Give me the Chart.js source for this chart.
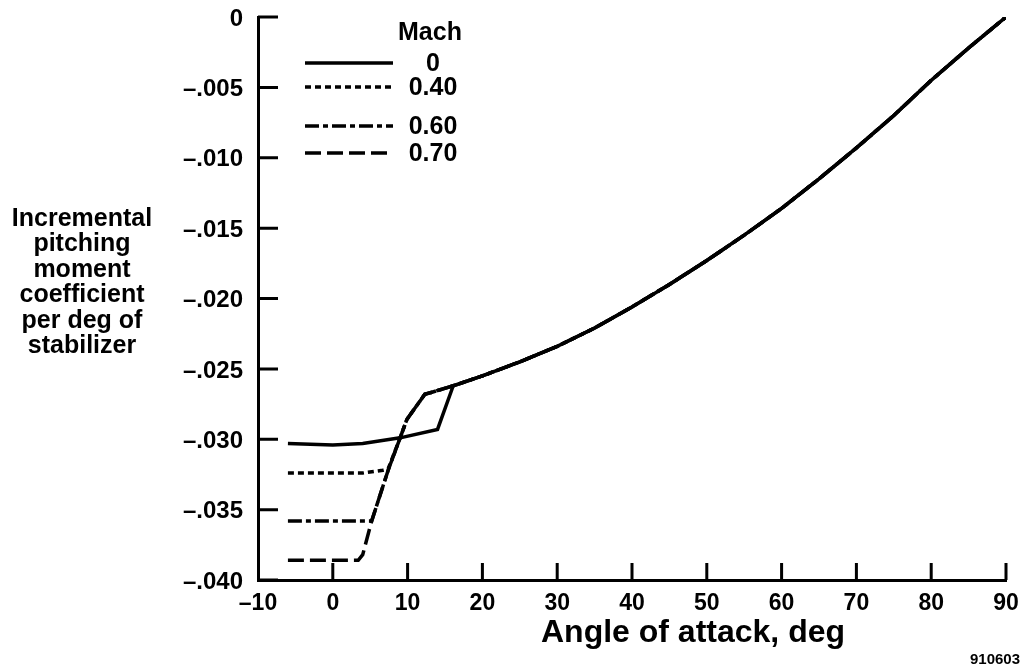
<!DOCTYPE html>
<html>
<head>
<meta charset="utf-8">
<title>Incremental pitching moment coefficient vs angle of attack</title>
<script src="https://cdn.jsdelivr.net/npm/chart.js@4.4.1/dist/chart.umd.min.js"></script>
<style>
  html, body { margin: 0; padding: 0; background: #fff; }
  canvas { display: block; }
</style>
</head>
<body>
<canvas id="chart" width="1025" height="671"></canvas>
<script>
// angle of attack (deg) and incremental Cm per deg of stabilizer

// low-alpha plateau of each Mach number
const mach0Alpha = [-6, 0, 4, 9, 14];
const mach0Cm = [-0.0303, -0.0304, -0.0303, -0.0299, -0.0293];

const mach40Alpha = [-6, 4, 6.7, 7.4];
const mach40Cm = [-0.0324, -0.0324, -0.0322, -0.0321];

const mach60Alpha = [-6, 5.2];
const mach60Cm = [-0.0358, -0.0358];

const mach70Alpha = [-6, 3.4, 4.0, 5.2];
const mach70Cm = [-0.0386, -0.0386, -0.0382, -0.0358];

// steep break shared by the compressible cases
const breakAlpha = [7.4, 9.0, 9.9, 12.3, 13.0];
const breakCm = [-0.0322, -0.0299, -0.0286, -0.0268, -0.0267];

// common high-alpha branch
const upperAlpha = [16.1, 20, 25, 30, 35, 40, 45, 50, 55, 60, 65, 70, 75, 80, 85, 90];
const upperCm = [-0.0262, -0.0255, -0.0245, -0.0234, -0.0221, -0.0206, -0.0190, -0.0173, -0.0155, -0.0136, -0.0115, -0.0093, -0.0070, -0.0045, -0.0022, 0];

const machLabels = ['0', '0.40', '0.60', '0.70'];

const xTicks = [-10, 0, 10, 20, 30, 40, 50, 60, 70, 80, 90];
const xTickLabels = ['\u201310', '0', '10', '20', '30', '40', '50', '60', '70', '80', '90'];
const yTicks = [-0.040, -0.035, -0.030, -0.025, -0.020, -0.015, -0.010, -0.005, 0];
const yTickLabels = ['\u2013.040', '\u2013.035', '\u2013.030', '\u2013.025', '\u2013.020', '\u2013.015', '\u2013.010', '\u2013.005', '0'];

const yTitleLines = ['Incremental', 'pitching', 'moment', 'coefficient', 'per deg of', 'stabilizer'];
const xTitle = 'Angle of attack, deg';
const figNumber = '910603';

const FONT = "'Liberation Sans', Arial, Helvetica, sans-serif";

function toPoints(alphas, cms) {
  return alphas.map((a, i) => ({ x: a, y: cms[i] }));
}

const series = [
  { label: machLabels[0], pts: [...toPoints(mach0Alpha, mach0Cm), ...toPoints(upperAlpha, upperCm)], dash: [] },
  { label: machLabels[1], pts: [...toPoints(mach40Alpha, mach40Cm), ...toPoints(breakAlpha.slice(1), breakCm.slice(1)), ...toPoints(upperAlpha, upperCm)], dash: [6, 4] },
  { label: machLabels[2], pts: [...toPoints(mach60Alpha, mach60Cm), ...toPoints(breakAlpha, breakCm), ...toPoints(upperAlpha, upperCm)], dash: [14, 4, 5, 4] },
  { label: machLabels[3], pts: [...toPoints(mach70Alpha, mach70Cm), ...toPoints(breakAlpha, breakCm), ...toPoints(upperAlpha, upperCm)], dash: [16, 6] },
];

// inward tick marks, legend and free-standing titles
const decor = {
  id: 'decor',
  afterDraw(chart) {
    const { ctx, scales: { x, y } } = chart;
    ctx.save();
    ctx.strokeStyle = '#000';
    ctx.lineWidth = 3;
    ctx.setLineDash([]);
    ctx.beginPath();
    xTicks.slice(1).forEach(v => {
      const px = x.getPixelForValue(v);
      ctx.moveTo(px, y.bottom);
      ctx.lineTo(px, y.bottom - 17);
    });
    yTicks.forEach(v => {
      const py = y.getPixelForValue(v);
      ctx.moveTo(x.left, py);
      ctx.lineTo(x.left + 20, py);
    });
    ctx.stroke();

    // legend
    ctx.fillStyle = '#000';
    ctx.textAlign = 'center';
    ctx.textBaseline = 'middle';
    ctx.font = `bold 25px ${FONT}`;
    ctx.fillText('Mach', 430, 33);
    const rowY = [63, 87, 126, 153];
    chart.data.datasets.forEach((ds, i) => {
      ctx.beginPath();
      ctx.lineWidth = 3.5;
      ctx.setLineDash(ds.borderDash);
      ctx.moveTo(305, rowY[i]);
      ctx.lineTo(393, rowY[i]);
      ctx.stroke();
      ctx.setLineDash([]);
      ctx.fillText(ds.label, 433, rowY[i] + 1);
    });

    // y title, horizontal stack
    ctx.font = `bold 25px ${FONT}`;
    yTitleLines.forEach((t, i) => ctx.fillText(t, 82, 219 + i * 25.5));

    // x title
    ctx.font = `bold 32px ${FONT}`;
    ctx.fillText(xTitle, 693, 633);

    ctx.font = `bold 15px ${FONT}`;
    ctx.textAlign = 'right';
    ctx.fillText(figNumber, 1020, 660);
    ctx.restore();
  }
};

new Chart(document.getElementById('chart'), {
  type: 'line',
  data: {
    datasets: series.map(s => ({
      label: s.label,
      data: s.pts,
      borderColor: '#000',
      borderWidth: 3.5,
      borderDash: s.dash,
      pointRadius: 0,
      tension: 0,
      fill: false,
    })),
  },
  options: {
    responsive: false,
    animation: false,
    devicePixelRatio: 1,
    layout: { padding: { top: 17, right: 19, left: 0, bottom: 0 } },
    plugins: { legend: { display: false }, tooltip: { enabled: false } },
    scales: {
      x: {
        type: 'linear',
        min: -10,
        max: 90,
        afterBuildTicks: s => { s.ticks = xTicks.map(v => ({ value: v })); },
        afterFit: s => { s.height = 91; s.paddingLeft = 0; s.paddingRight = 0; },
        grid: { display: false, drawTicks: false },
        border: { display: true, color: '#000', width: 3 },
        ticks: {
          autoSkip: false,
          maxRotation: 0,
          padding: 10,
          color: '#000',
          font: { family: FONT, size: 23, weight: 'bold' },
          callback: (v, i) => xTickLabels[i],
        },
      },
      y: {
        type: 'linear',
        min: -0.04,
        max: 0,
        afterBuildTicks: s => { s.ticks = yTicks.map(v => ({ value: v })); },
        afterFit: s => { s.width = 258; s.paddingTop = 0; s.paddingBottom = 0; },
        grid: { display: false, drawTicks: false },
        border: { display: true, color: '#000', width: 3 },
        ticks: {
          padding: 15,
          labelOffset: 2,
          color: '#000',
          font: { family: FONT, size: 24, weight: 'bold' },
          callback: (v, i) => yTickLabels[i],
        },
      },
    },
  },
  plugins: [decor],
});
</script>
</body>
</html>
